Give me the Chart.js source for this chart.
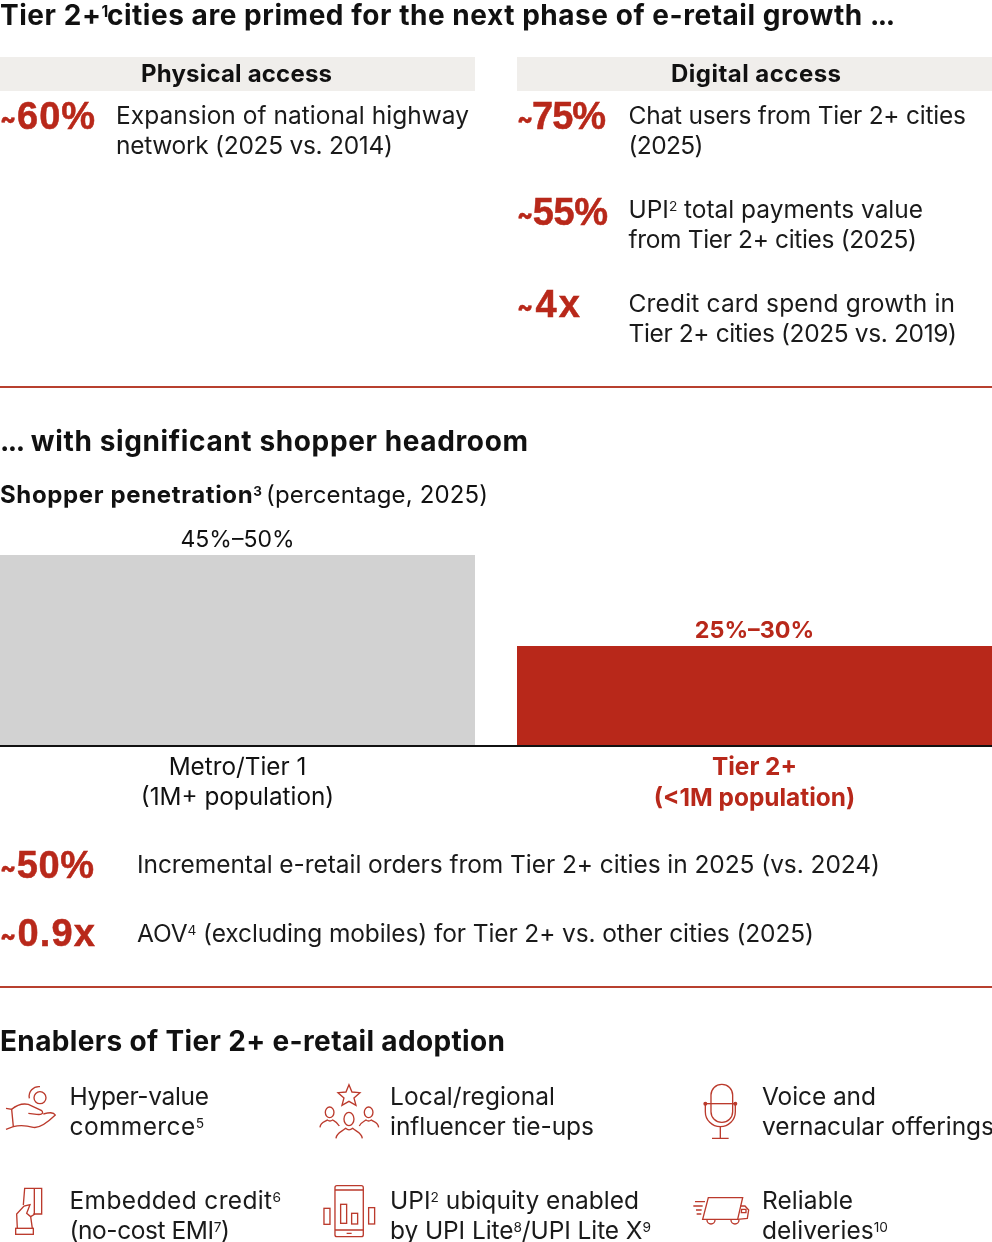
<!DOCTYPE html>
<html><head><meta charset="utf-8">
<script src="https://cdn.jsdelivr.net/npm/chart.js@4"></script>
<style>
html,body{margin:0;padding:0;background:#fff;width:992px;height:1242px;overflow:hidden}
body{position:relative;font-family:Inter,sans-serif;color:#111}
.t{position:absolute;white-space:nowrap;line-height:1.2}
.t sup{font-size:.56em;vertical-align:baseline;position:relative;top:-.5em;line-height:0}
.t sup.tight{margin-right:-9px}
.t .dots{letter-spacing:-1.5px}
.t .tl{font-family:Inter,sans-serif;font-weight:800;font-size:.62em;position:relative;top:-.08em}
.num{font-family:"Liberation Sans",Arial,sans-serif;-webkit-text-stroke:.5px #b8281a}
.band{position:absolute;top:57px;height:34px;background:#f0eeeb;width:475px}
.rule{position:absolute;left:0;width:992px;height:2px;background:#b8402f}
#wrap{position:absolute;left:-21px;top:520px;width:1034px;height:295px}
svg{position:absolute;left:0;top:0}
svg *{fill:none;stroke:#bb3a2c}
</style></head><body>
<div class="band" style="left:0"></div>
<div class="band" style="left:517px"></div>
<div class="rule" style="top:386px"></div>
<div class="rule" style="top:986px"></div>
<div id="wrap"><canvas id="c"></canvas></div>
<svg width="992" height="1242" viewBox="0 0 992 1242">
 <g transform="translate(0,1070) scale(.3333)" stroke-width="4">
  <circle cx="120" cy="83" r="18"/><path d="M88 85C84 65 100 48 120 50"/>
  <path d="M18 115L35 118L40 170L18 178"/>
  <path d="M35 118C50 105 70 100 85 103L125 122C132 130 125 135 110 133L85 130"/>
  <path d="M40 170C65 163 85 168 100 172C120 176 145 155 166 135C160 125 148 127 130 132"/>
  <path d="M1047 44L1056 66L1080 68L1062 84L1068 106L1047 94L1026 106L1032 84L1014 68L1038 66Z"/>
  <ellipse cx="989" cy="127" rx="13" ry="16"/><ellipse cx="1047" cy="147" rx="15" ry="20"/><ellipse cx="1106" cy="127" rx="13" ry="16"/>
  <path d="M960 172C962 155 975 156 982 150Q990 156 998 150C1005 154 1012 156 1018 168"/>
  <path d="M1008 205C1010 188 1025 186 1037 175Q1047 184 1058 175C1070 186 1085 188 1087 205"/>
  <path d="M1078 168C1084 156 1092 155 1098 150Q1106 156 1114 150C1122 156 1134 156 1136 172"/>
  <path d="M70 405L74 355H125V432H100"/><path d="M103 355V432"/>
  <rect x="47" y="475" width="53" height="18"/>
  <path d="M52 475L50 432L72 408L90 404L80 430L92 440L97 475"/><path d="M92 440L105 432"/>
  <rect x="1005" y="347" width="85" height="153" rx="6"/><path d="M1005 360H1090M1005 480H1090M1040 490H1055"/>
  <rect x="972" y="415" width="18" height="48"/><rect x="1022" y="403" width="18" height="57"/>
  <rect x="1055" y="430" width="18" height="32"/><rect x="1106" y="413" width="18" height="49"/>
 </g>
 <g transform="translate(600,1070) scale(.3333)" stroke-width="4">
  <rect x="333" y="43" width="65" height="114" rx="32"/><path d="M316 101H406"/>
  <path d="M316 101V125A45 45 0 0 0 406 125V101"/><path d="M361 170V205M336 205H386"/>
  <circle cx="316" cy="101" r="4" style="fill:#bb3a2c"/><circle cx="406" cy="101" r="4" style="fill:#bb3a2c"/>
  <path d="M325 383H428L413 448H308Z"/>
  <path d="M421 408H435L446 420L442 445L413 448"/><path d="M425 418H438L438 428H424Z"/>
  <path d="M321 450A12 12 0 0 0 345 450M393 450A12 12 0 0 0 417 450"/>
  <path d="M285 395H315M280 408H308M288 420H305M290 432H304"/>
 </g>
</svg>
<script>
const categories=[["Metro/Tier 1","(1M+ population)"],["Tier 2+","(<1M population)"]];
const shopperPenetration=[47.75,25];
const valueLabels=["45%–50%","25%–30%"];
const barColors=["#d2d2d2","#b8281a"];
const labelColors=["#111111","#b8281a"];

const RED="#b8281a";
const headings=[
 [0,25,893,28,700,"#111",'Tier 2+<sup class="tight">1</sup> cities are primed for the next phase of e-retail growth <span class="dots">...</span>'],
 [0,451,528,28,700,"#111",'<span class="dots">...</span> with significant shopper headroom'],
 [0,1051,505,28,700,"#111","Enablers of Tier 2+ e-retail adoption"],
 [141,82,191,24,700,"#111","Physical access"],
 [671,82,170,24,700,"#111","Digital access"],
 [0,503,262,24,700,"#111","Shopper penetration<sup>3</sup>"],
 [266,503,222,24,400,"#111","(percentage, 2025)"]
];
const bigNumbers=[
 [0,129,95,38,700,RED,'<span class="tl">~</span>60%'],[517,129,89,38,700,RED,'<span class="tl">~</span>75%'],
 [517,225,91,38,700,RED,'<span class="tl">~</span>55%'],[517,317,63,38,700,RED,'<span class="tl">~</span>4x'],
 [0,878,94,38,700,RED,'<span class="tl">~</span>50%'],[0,946,95,38,700,RED,'<span class="tl">~</span>0.9x']
];
const bodyLines=[
 [116,124,353,"Expansion of national highway"],[116,154,277,"network (2025 vs. 2014)"],
 [628.5,124,337.5,"Chat users from Tier 2+ cities"],[628.5,154,75,"(2025)"],
 [628.5,218,294.5,"UPI<sup>2</sup> total payments value"],[628.5,248,288.5,"from Tier 2+ cities (2025)"],
 [628.5,312,326.5,"Credit card spend growth in"],[628.5,342,328.5,"Tier 2+ cities (2025 vs. 2019)"],
 [137,873,743,"Incremental e-retail orders from Tier 2+ cities in 2025 (vs. 2024)"],
 [137,942,677,"AOV<sup>4</sup> (excluding mobiles) for Tier 2+ vs. other cities (2025)"],
 [69.5,1105,139.5,"Hyper-value"],[69.5,1135,134.5,"commerce<sup>5</sup>"],
 [390,1105,165,"Local/regional"],[390,1135,204,"influencer tie-ups"],
 [762,1105,114,"Voice and"],[762,1135,232,"vernacular offerings"],
 [69.5,1209,211.5,"Embedded credit<sup>6</sup>"],[69.5,1239,160.5,"(no-cost EMI<sup>7</sup>)"],
 [390,1209,249,"UPI<sup>2</sup> ubiquity enabled"],[390,1239,261,"by UPI Lite<sup>8</sup>/UPI Lite X<sup>9</sup>"],
 [762,1209,91,"Reliable"],[762,1239,126,"deliveries<sup>10</sup>"]
];
function place(x,base,w,size,weight,color,html,cls){
 const s=document.createElement('div');s.className='t'+(cls?' '+cls:'');s.innerHTML=html;
 s.style.cssText=`left:${x}px;top:0;font-size:${size}px;font-weight:${weight};color:${color}`;
 const b=document.createElement('span');b.style.cssText='display:inline-block;width:0;height:0';
 s.appendChild(b);document.body.appendChild(s);
 const dots=s.querySelector('.dots');
 const n=s.textContent.length-(dots?3:0)-1;
 const natural=s.getBoundingClientRect().width;
 s.style.letterSpacing=((w-natural)/n)+'px';
 s.style.top=(base-b.getBoundingClientRect().bottom)+'px';
}
headings.forEach(a=>place(...a));
bigNumbers.forEach(a=>place(...a,'num'));
bodyLines.forEach(a=>place(a[0],a[1],a[2],24.5,400,"#1a1a1a",a[3]));

const valueLabelPlugin={id:'valueLabels',afterDatasetsDraw(chart){
 const {ctx}=chart;
 chart.getDatasetMeta(0).data.forEach((bar,i)=>{
  ctx.save();ctx.textAlign='center';ctx.textBaseline='alphabetic';
  ctx.fillStyle=labelColors[i];
  ctx.font=(i?'700 23.3px':'400 23px')+' Inter, sans-serif';
  ctx.fillText(valueLabels[i],bar.x,bar.y-8);
  ctx.restore();
 });
}};
new Chart(document.getElementById('c'),{
 type:'bar',
 data:{labels:categories,datasets:[{data:shopperPenetration,backgroundColor:barColors,borderWidth:0,barPercentage:475/517,categoryPercentage:1}]},
 plugins:[valueLabelPlugin],
 options:{
  responsive:true,maintainAspectRatio:false,animation:false,
  layout:{padding:{left:0,right:0,top:26,bottom:0}},
  plugins:{legend:{display:false},tooltip:{enabled:false},title:{display:false}},
  scales:{
   x:{grid:{display:false,drawTicks:false},border:{display:true,color:'#111',width:2,z:2},
      afterFit(s){s.height=69},
      ticks:{maxRotation:0,autoSkip:false,padding:7,
        color:c=>labelColors[c.index],
        font:c=>({family:'Inter, sans-serif',size:c.index?24.4:24.3,weight:c.index?700:400,lineHeight:1.235})}},
   y:{display:false,min:0,max:50}
  }
 }
});
</script>
</body></html>
